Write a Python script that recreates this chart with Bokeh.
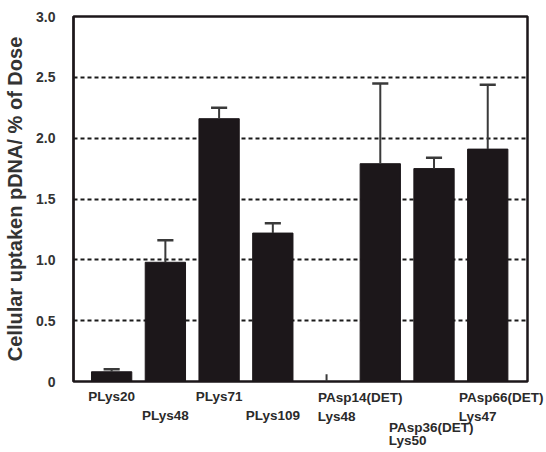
from bokeh.plotting import figure
from bokeh.models import Range1d, FixedTicker, ColumnDataSource, LinearAxis
from bokeh.embed import file_html
from bokeh.resources import INLINE

# ---- data ----
categories = ["PLys20", "PLys48", "PLys71", "PLys109", "",
              "PAsp14(DET)\nLys48", "PAsp36(DET)\nLys50", "PAsp66(DET)\nLys47"]
uptake = [0.08, 0.98, 2.16, 1.22, 0.0, 1.79, 1.75, 1.91]
err_upper = [0.10, 1.16, 2.25, 1.30, 0.06, 2.45, 1.84, 2.44]
y_ticks = [0, 0.5, 1.0, 1.5, 2.0, 2.5, 3.0]
y_tick_labels = ["0", "0.5", "1.0", "1.5", "2.0", "2.5", "3.0"]

FONT = "Liberation Sans"
INK = "#1c171a"
TXT = "#2a2a2a"
X0, X1 = -0.71, 7.74
LEFT = 73
FRAME_W = 454
PPU = FRAME_W / (X1 - X0)
FS = 13.5            # label font size, px
H = 18.2             # measured single-line label box height, px
CAP = 3.5            # box top -> cap top, px

xs = list(range(len(categories)))
src = ColumnDataSource(dict(x=xs, top=uptake, up=err_upper))

p = figure(width=546, height=452, output_backend="svg", toolbar_location=None,
           x_range=Range1d(X0, X1), y_range=Range1d(0, 3.0),
           min_border_left=LEFT, min_border_right=546 - LEFT - FRAME_W,
           min_border_top=16, min_border_bottom=71)

p.background_fill_color = "white"
p.border_fill_color = "white"
p.outline_line_color = INK
p.outline_line_width = 2.5

# grid
p.xgrid.visible = False
p.ygrid.ticker = FixedTicker(ticks=y_ticks)
p.ygrid.grid_line_color = "#1a1a1a"
p.ygrid.grid_line_dash = "4 3"
p.ygrid.grid_line_width = 2.2

# bars
p.vbar(x="x", top="top", width=0.75, bottom=0, source=src,
       fill_color=INK, line_color=INK)

# error bars (upper only)
p.segment(x0="x", y0="top", x1="x", y1="up", source=src,
          line_color="#3a3a3a", line_width=2)
cap_x = [x for x, v in zip(xs, uptake) if v > 0]
cap_y = [u for u, v in zip(err_upper, uptake) if v > 0]
p.segment(x0=[x - 0.15 for x in cap_x], y0=cap_y, x1=[x + 0.15 for x in cap_x],
          y1=cap_y, line_color="#3a3a3a", line_width=2.5)

# y axis
yax = p.yaxis[0]
yax.ticker = FixedTicker(ticks=y_ticks)
yax.major_label_overrides = {t: s for t, s in zip(y_ticks, y_tick_labels)}
yax.major_tick_in = 0
yax.major_tick_out = 0
yax.minor_tick_in = 0
yax.minor_tick_out = 0
yax.axis_line_color = INK
yax.axis_line_width = 2
yax.major_label_standoff = 18
yax.major_label_text_font = FONT
yax.major_label_text_font_size = "14px"
yax.major_label_text_font_style = "bold"
yax.major_label_text_color = "#333333"
yax.axis_label = "Cellular uptaken pDNA/ % of Dose"
yax.axis_label_text_font = FONT
yax.axis_label_text_font_size = "20px"
yax.axis_label_text_font_style = "bold"
yax.axis_label_text_color = "#333333"
yax.axis_label_standoff = 7


def style_xaxis(ax, standoff):
    ax.axis_line_color = None
    ax.major_tick_in = 0
    ax.major_tick_out = 0
    ax.minor_tick_in = 0
    ax.minor_tick_out = 0
    ax.major_label_standoff = standoff
    ax.major_label_text_font = FONT
    ax.major_label_text_font_size = f"{FS}px"
    ax.major_label_text_font_style = "bold"
    ax.major_label_text_color = TXT
    ax.major_label_orientation = "horizontal"


def px_to_x(px):
    return X0 + (px - LEFT) / PPU


def est_width(s):  # rough Liberation Sans Bold advance widths (em)
    w = {"P": .667, "A": .722, "L": .611, "D": .722, "E": .667, "T": .611,
         "s": .556, "p": .611, "y": .556, "(": .333, ")": .333}
    return sum(w.get(c, .556) for c in s) * FS


# ---- category label layout ----
# (cap-top offset below frame px, [(category index, line no, left edge px or None = centred on bar)])
rows = [
    (11, [(5, 0, 317), (7, 0, 458)]),
    (30, [(1, 0, None), (3, 0, None)]),
    (31, [(5, 1, 317), (7, 1, 458)]),
    (42, [(6, 0, 388)]),
    (55, [(6, 1, 388)]),
    (11, [(0, 0, None), (2, 0, None)]),
]

prev_end = 0.0
for k, (cap_top, items) in enumerate(rows):
    ticks, labels = [], []
    for ci, li, left in items:
        text = categories[ci].split("\n")[li]
        t = float(ci) if left is None else px_to_x(left + est_width(text) / 2)
        ticks.append(t)
        labels.append(text)
    ax = p.xaxis[0] if k == 0 else LinearAxis()
    ax.ticker = FixedTicker(ticks=ticks)
    ax.major_label_overrides = dict(zip(ticks, labels))
    standoff = int(round(cap_top - CAP - prev_end))
    style_xaxis(ax, standoff)
    if k > 0:
        p.add_layout(ax, "below")
    prev_end = prev_end + standoff + H

open("out.html", "w").write(file_html(p, INLINE))
